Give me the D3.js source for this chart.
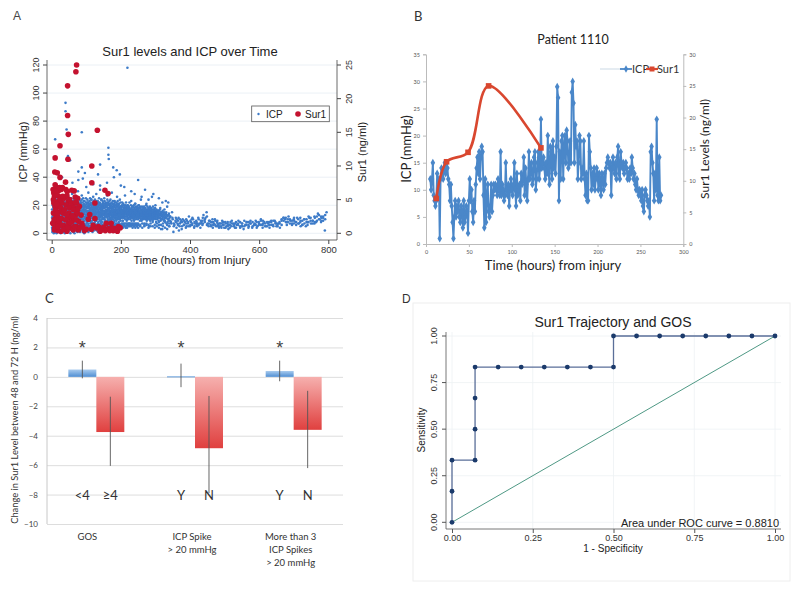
<!DOCTYPE html>
<html><head><meta charset="utf-8">
<script src="https://cdn.jsdelivr.net/npm/d3@7"></script>
<style>
body{margin:0;background:#fff;}
svg{display:block;}
</style>
</head><body>
<svg id="chart" width="800" height="592"></svg>
<script>
// ---------------- DATA ----------------
// Panel A: individual ICP readings (hours, mmHg)
const icpA = [
[3,12],[4,5],[5,18],[6,9],[7,24],[8,2],[9,14],[10,20],[11,7],[12,28],[13,11],[14,16],[15,3],[16,22],[17,9],[18,13],[19,30],[20,6],[21,18],[22,11],[23,25],[24,4],[25,15],[26,20],[27,8],[28,33],[29,12],[30,17],[31,1],[32,23],[33,10],[34,14],[35,27],[36,6],[37,19],[38,12],[39,22],[40,9],[41,16],[42,31],[43,4],[44,13],[45,21],[46,8],[47,17],[48,26],[49,11],[50,14],
[51,19],[52,7],[53,24],[54,12],[55,16],[56,3],[57,21],[58,10],[59,28],[60,14],[61,18],[62,6],[63,23],[64,11],[65,15],[66,20],[67,9],[68,26],[69,13],[70,17],[71,5],[72,22],[73,12],[74,19],[75,8],[76,30],[77,14],[78,16],[79,11],[80,24],[81,7],[82,18],[83,13],[84,21],[85,10],[86,15],[87,27],[88,4],[89,19],[90,12],[91,17],[92,9],[93,23],[94,14],[95,20],[96,6],[97,16],[98,11],[99,25],[100,13],[101,18],[102,8],[103,22],[104,15],[105,10],[106,29],[107,12],[108,19],[109,5],[110,16],[111,21],[112,9],[113,14],[114,24],[115,11],[116,17],[117,7],[118,20],[119,13],[120,26],[121,15],[122,10],[123,18],[124,3],[125,22],[126,12],[127,16],[128,9],[129,28],[130,14],[131,19],[132,11],[133,23],[134,7],[135,17],[136,13],[137,21],[138,10],[139,15],[140,31],[141,12],[142,18],[143,8],[144,24],[145,14],[146,16],[147,11],[148,20],[149,6],[150,13],
[151,18],[152,25],[153,10],[154,15],[155,21],[156,8],[157,14],[158,19],[159,12],[160,27],[161,16],[162,9],[163,22],[164,13],[165,17],[166,5],[167,20],[168,11],[169,15],[170,24],[171,10],[172,18],[173,13],[174,29],[175,7],[176,16],[177,21],[178,12],[179,14],[180,19],[181,9],[182,23],[183,15],[184,11],[185,17],[186,6],[187,20],[188,13],[189,26],[190,10],[191,16],[192,14],[193,21],[194,8],[195,18],[196,12],[197,24],[198,15],[199,11],[200,19],[202,13],[204,22],[206,9],[208,16],[210,12],[212,27],[214,14],[216,18],[218,10],[220,20],[222,15],[224,7],[226,17],[228,13],[230,23],[232,11],[234,16],[236,19],[238,9],[240,14],[242,21],[244,12],[246,17],[248,6],[250,15],
[252,20],[254,11],[256,14],[258,24],[260,9],[262,16],[264,13],[266,18],[268,7],[270,15],[272,12],[274,21],[276,10],[278,17],[280,14],[282,5],[284,19],[286,11],[288,15],[290,26],[292,9],[294,13],[296,17],[298,12],[300,20],[302,8],[304,14],[306,11],[308,16],[310,6],[312,13],[314,18],[316,10],[318,15],[320,3],[322,12],[324,9],[326,17],[328,11],[330,14],[332,7],[334,19],[336,10],[338,13],[340,5],[342,12],[345,8],[348,15],[350,10],[352,1],
[219,118],[40,93],[40,87],[43,74],[10,67],[87,72],[164,61],[164,56],[165,53],[140,49],[178,47],[188,45],[197,42],[87,47],[19,42],[77,44],[96,43],[134,42],[250,38],[77,38],[90,39],[294,28],[337,22],[53,52],[47,55],[120,35],[160,36],[210,33],[230,30],[270,31],[310,25],[200,34],[180,40],[140,34],[60,36],[30,40],[100,33],[240,28],[260,26],[280,24],[320,22],[330,23],
[355,6],[358,9],[361,4],[364,7],[367,11],[370,5],[373,8],[376,3],[379,10],[382,6],[385,8],[388,4],[391,9],[394,7],[397,12],[400,5],[403,8],[406,6],[409,10],[412,4],[415,7],[418,9],[421,5],[424,11],[427,7],[430,4],[433,8],[436,6],[439,13],[442,9],[445,11],[448,15],[451,7],[454,5],[457,9],[460,6],[463,8],[466,4],[469,7],[472,10],[475,5],[478,8],[481,6],[484,4],[487,7],[490,5],[493,9],[496,6],[499,4],[502,8],[505,5],[508,7],[511,3],[514,6],[517,8],[520,5],[525,7],[530,4],[535,6],[540,9],[545,5],[550,7],[555,3],[560,6],[565,8],[570,5],[575,7],[580,4],[585,6],[590,9],[595,5],[600,7],[605,10],[610,6],[615,8],[620,5],[625,7],[630,4],[635,8],[640,6],[645,9],[650,5],[655,7],[660,4],[665,9],[670,11],[675,10],[680,8],[685,12],[690,9],[695,6],[700,10],[705,8],[710,11],[715,7],[720,9],[725,6],[730,10],[735,5],[740,8],[745,11],[750,7],[755,9],[760,12],[765,8],[770,14],[775,10],[780,9],[785,12],[790,2],[795,15],
[362,10],[368,2],[375,9],[390,5],[405,10],[420,7],[435,9],[450,6],[465,10],[480,7],[495,8],[510,6],[530,7],[550,5],[570,8],[590,6],[610,4],[630,8],[650,7],[680,6],[700,7],[720,5],[740,6],[760,7],[780,11]
];
// Panel A: several ICP readings logged at the same hour: [hour, reading, reading, ...]
const icpRowsA = [
[1,4,11,17,23,8],[3,9,15,2,20,13],[5,6,19,12,26,10],[7,14,3,21,9,17],[9,11,24,7,16,1],[11,18,5,13,22,10],[13,8,15,27,4,19],[15,12,20,6,17,24],[17,5,14,10,23,16],[19,9,18,3,12,21],
[21,15,7,25,11,19],[23,10,20,4,16,13],[25,6,12,22,18,9],[27,14,2,17,24,11],[29,19,8,13,21,5],[31,11,16,26,7,14],[33,4,18,12,20,9],[35,15,10,23,6,17],[37,8,21,13,3,19],[39,12,16,25,9,14],
[41,18,6,11,22,15],[43,10,20,14,7,24],[45,5,13,19,16,11],[47,14,9,22,12,18],[49,20,7,15,25,10],[51,11,17,4,21,13],[53,16,9,19,12,23],[55,8,14,22,18,6],[57,13,20,10,16,25],[59,17,5,12,21,15],
[61,10,19,14,8,23],[63,15,22,6,13,18],[65,12,9,17,24,11],[67,19,14,21,7,16],[69,8,16,12,20,26],[71,14,11,23,17,9],[73,18,6,15,21,13],[75,11,20,9,16,24],[77,16,13,19,5,22],[79,9,17,12,25,15],
[81,13,21,16,8,19],[83,20,10,14,23,6],[85,7,15,18,12,22],[87,14,19,11,24,16],[89,17,8,22,13,20],[91,10,16,14,19,25],[93,15,12,21,7,18],[95,19,23,9,14,11],[97,12,17,20,16,6],[99,16,10,13,22,19],
[101,8,21,15,18,12],[103,14,19,11,24,16],[105,18,13,20,9,22],[107,11,16,7,21,14],[109,15,23,12,18,10],[111,20,9,17,13,25],[113,13,18,15,22,8],[115,17,11,24,14,19],[117,9,20,16,12,21],[119,14,15,22,18,7],
[121,19,12,10,23,16],[123,11,17,21,14,20],[125,16,8,13,19,24],[127,13,22,18,10,15],[129,20,14,9,17,21],[131,10,18,23,15,12],[133,15,11,19,21,17],[135,22,16,13,8,19],[137,12,20,17,14,25],[139,18,9,15,22,11],
[141,14,21,12,17,19],[143,9,16,24,13,20],[145,17,12,19,10,15],[147,21,14,8,18,23],[149,13,19,16,11,22],[151,16,10,21,14,18],[153,11,18,13,23,15],[155,19,15,20,9,12],[157,14,22,17,12,16],[159,8,13,19,21,15],
[161,17,20,11,14,24],[163,12,16,22,18,10],[165,20,9,14,17,21],[167,15,18,12,23,13],[169,10,21,16,14,19],[171,18,13,20,11,15],[173,14,17,9,22,16],[175,21,12,15,19,11],[177,13,16,23,10,18],[179,17,20,14,12,15],
[181,11,15,19,21,8],[183,16,22,13,17,14],[185,12,18,10,20,15],[187,19,14,16,9,22],[189,15,11,21,13,17],[191,13,17,12,19,23],[193,18,10,15,14,20],[195,14,21,11,17,13],[197,10,16,19,12,15],[199,17,13,22,15,9],
[201,12,19,14,18,16],[203,15,11,20,13,17],[205,19,14,9,16,12],[207,13,17,15,21,11],[209,16,12,18,14,20],[211,11,15,13,19,17],[213,18,20,14,10,15],[215,14,16,12,17,22],[217,12,19,15,13,9],[219,17,11,14,20,16],
[221,15,18,10,13,14],[223,13,16,19,11,17],[225,18,12,15,22,14],[227,10,14,17,16,12],[229,16,20,13,15,11],[231,14,12,18,9,16],[233,12,17,15,19,13],[235,19,13,11,14,17],[237,15,16,20,12,10],[239,11,14,17,15,18],
[241,17,12,13,21,15],[243,13,19,16,10,14],[245,16,11,14,18,12],[247,12,15,19,13,17],[249,18,14,10,16,12],[251,14,17,13,20,11],[253,11,15,18,12,16],[255,16,13,14,9,19],[257,13,18,11,15,12],[259,15,10,17,14,13],
[261,12,16,13,19,10],[263,17,14,12,11,15],[265,10,13,16,18,14],[267,14,19,12,15,11],[269,16,11,14,13,17],[271,12,15,18,10,13],[273,15,13,11,16,20],[275,13,17,14,12,9],[277,11,14,16,19,13],[279,17,12,13,15,10],
[281,14,16,11,13,18],[283,12,10,15,17,14],[285,16,13,12,14,9],[287,10,15,18,11,13],[289,14,12,16,13,17],[291,13,17,10,15,12],[293,15,11,14,19,13],[295,12,14,17,10,16],[297,16,13,12,14,11],[299,11,15,13,18,14],
[301,13,10,16,12,15],[303,15,12,14,17],[305,10,14,12,16],[307,14,11,15,13],[309,12,16,9,14],[311,16,13,11],[313,11,14,17],[315,13,9,15],[317,14,12,10],[319,10,15,13],
[321,13,11,16],[323,12,14],[325,15,10],[327,9,13],[329,14,12],[331,11,15],[333,13],[335,12,8],[337,10],[339,14,9],
[341,11],[343,9,12],[346,7],[349,11],
[2,3,1,6],[6,2,5,0],[10,4,1,7],[14,0,3,6],[18,5,2,1],[22,1,6,4],[26,3,0,5],[30,6,2,4],[34,1,5,3],[38,4,0,6],
[42,2,7,3],[46,5,1,4],[50,3,6,2],[54,0,4,7],[58,5,2,3],[62,1,6,4],[66,4,3,0],[70,2,5,7],[74,6,1,3],[78,3,4,6],
[82,1,7,2],[86,5,3,4],[90,2,6,1],[94,4,0,5],[98,6,3,2],[102,3,5,7],[106,1,4,6],[110,5,2,3],[114,3,7,4],[118,6,1,5],
[122,2,4,7],[126,5,3,6],[130,4,6,2],[134,1,5,7],[138,6,3,4],[142,3,7,5],[146,5,2,6],[150,4,6,3],[154,7,4,2],[158,3,5,6],
[162,6,2,7],[166,4,7,5],[170,2,5,6],[174,5,3,7],[178,7,4,6],[182,3,6,5],[186,6,7,4],[190,4,5,7],[194,7,3,6],[198,5,6,4],
[202,6,7,5],[206,4,6,7],[210,7,5,6],[214,5,7,4],[218,6,4,7],[222,7,6,5],[226,5,7,6],[230,6,5,7],[234,7,6,4],[238,5,7,6],
[242,6,4,7],[246,7,5,6],[250,4,7,6],[256,6,5],[262,7,4],[268,5,6],[274,6,7],[280,4,6],[286,7,5],[292,5,8],
[298,6,4],[304,7,5],[310,4,8],[316,6,3],[322,5,7],[328,8,4],[334,3,6],[340,7,5],
[353,7,5],[359,8,11],[365,6,9],[371,10,7],[377,5,8],[383,9,6],[389,7,10],[395,8,5],[401,6,9],[407,11,7],
[413,5,8],[419,8,6],[425,6,10],[431,9,7],[437,7,11],[443,10,8],[449,12,6],[455,7,9],[461,5,8],[467,8,6],
[473,6,9],[479,9,5],[485,5,7],[491,7,4],[497,6,8],[503,4,7],[509,8,5],[515,6,4],[521,7,9],[527,5,6],
[533,8,4],[539,6,7],[545,4,8],[551,7,5],[557,5,9],[563,8,6],[569,6,4],[575,9,7],[581,5,8],[587,7,6],
[593,4,8],[599,8,6],[605,6,9],[611,9,7],[617,7,5],[623,5,8],[629,8,6],[635,6,9],[641,9,5],[647,7,8],
[653,5,6],[659,8,7],[665,10,6],[671,9,11],[677,11,8],[683,8,10],[689,10,7],[695,7,9],[701,9,11],[707,6,8],
[713,10,7],[719,8,11],[725,9,6],[731,7,10],[737,10,8],[743,8,12],[749,11,9],[755,9,7],[761,8,11],[767,12,9],
[773,10,13],[779,8,12],[785,11,9],[791,13,10]
];
// Panel A: Sur1 levels (hours, ng/ml)
const sur1A = [
[72,25.0],[70,24.0],[46,21.9],[46,17.5],[48,14.7],[132,15.3],[24,13.0],[10,11.2],[47,11.0],[116,10.0],
[9,9.1],[24,8.3],[116,7.5],[40,7.6],[10,7.2],[19,6.3],[65,6.3],[154,6.4],[163,5.9],[75,5.2],
[19,4.7],[48,4.7],[72,4.5],[125,4.5],[10,4.0],[67,3.7],[24,3.2],[10,2.2],[48,2.3],[106,2.1],
[125,2.2],[14,1.5],[34,1.2],[58,1.7],[87,1.5],[135,1.0],[164,0.7],[183,0.7],[193,1.0],[10,0.7],
[38,0.7],[77,0.5],[5,3.0],[8,5.5],[15,6.8],[20,5.5],[27,6.5],[12,2.8],[22,1.8],[27,0.3],
[45,6.2],[50,3.0],[55,0.8],[60,4.0],[70,2.8],[72,1.0],[44,0.3],[95,0.4],[115,0.6],[140,0.3],
[150,0.9],[172,1.5],[178,0.4],[190,0.3],[30,4.5],[16,9.0],[158,1.5],[120,1.2],[130,0.8],[5,5.0],
[3,1.5],[6,6.0],[8,0.5],[11,3.5],[13,5.8],[17,2.5],[18,0.4],[21,4.0],[25,5.0],[28,2.2],
[31,6.8],[33,3.0],[36,5.2],[40,2.0],[42,4.2],[44,5.6],[49,1.5],[52,5.0],[56,2.5],[58,6.4],
[62,0.5],[64,2.0],[68,5.4],[74,3.0],[78,1.8],[80,4.0],[100,0.6],[110,2.8],[145,0.5],[155,0.4],
[168,0.4],[185,0.5],[198,0.8],[175,0.8],[4,6.5],[6,4.5],[7,2.0],[9,0.8],[12,6.3],[14,4.3],
[16,3.0],[19,1.0],[23,6.8],[26,3.8],[29,1.2],[32,5.5],[35,0.6],[37,3.5],[41,6.5],[43,2.8],
[47,0.9],[51,3.8],[54,1.6],[57,4.5],[60,2.6],[63,3.5],[66,1.0],[69,4.6],[71,2.0],[76,3.6],
[82,0.9],[85,2.7],[90,1.0]
];
const ticksA_x = [0,200,400,600,800];
const ticksA_y = [0,20,40,60,80,100,120];
const ticksA_y2 = [0,5,10,15,20,25];

// Panel B: Patient 1110 ICP (hours, mmHg)
const icpB = [
[5,12],[6,10],[7,12],[8,15],[9,9],[10,8],[11,7],[12,8],[13,13],[14,9],[15,12],[16,1],[17,12],[18,14],[19,13],[20,12],[21,14],[22,15],[23,13],[24,15],[25,14],[26,12],[27,11],[28,8],[29,11],[30,7],[31,4],[32,1],[33,5],[34,8],[35,5],[36,7],[37,6],[38,8],[39,5],[40,4],[41,7],[42,6],[43,3],[44,8],[45,4],[46,5],[47,7],[48,6],[49,2],
[50,8],[51,12],[52,8],[53,10],[54,6],[55,4],[56,8],[57,6],[58,11],[59,14],[60,16],[61,13],[62,17],[63,12],[64,16],[65,18],[66,17],[67,9],[68,3],[69,12],[70,4],[71,9],[72,11],[73,6],[74,5],[75,7],[76,11],[77,6],[78,9],[79,11],[80,10],[81,11],[82,10],[83,9],[84,12],[85,10],[86,9],[87,17],[88,9],[89,11],[90,10],[91,8],[92,9],[93,15],[94,10],[95,9],[96,11],[97,7],[98,10],[99,12],[100,10],[101,9],[102,11],[103,15],[104,10],
[105,7],[106,13],[107,9],[108,10],[109,11],[110,8],[111,13],[112,11],[113,12],[114,16],[115,9],[116,14],[117,11],[118,8],[119,12],[120,17],[121,12],[122,14],[123,15],[124,11],[125,12],[126,16],[127,17],[128,10],[129,12],[130,15],[131,17],[132,12],[133,14],[134,23],[135,14],[136,15],[137,16],[138,14],[139,12],[140,15],[141,13],[142,20],[143,13],[144,11],[145,18],[146,17],[147,12],[148,19],[149,14],[150,16],[151,13],[152,18],[153,29],[154,27],[155,8],[156,17],[157,12],[158,19],[159,20],[160,12],[161,18],[162,20],[163,15],[164,21],[165,19],[166,14],[167,15],[168,19],[169,15],[170,28],[171,30],[172,26],[173,15],[174,22],[175,18],[176,19],[177,12],[178,15],[179,20],[180,19],[181,12],[182,14],[183,13],[184,19],[185,12],[186,9],[187,13],[188,8],[189,8],[190,20],[191,17],[192,14],[193,10],
[194,13],[195,11],[196,14],[197,10],[198,12],[199,14],[200,13],[201,10],[202,13],[203,12],[204,9],[205,13],[206,12],[207,10],[208,13],[209,11],[210,14],[211,15],[212,16],[213,15],[214,14],[215,15],[216,9],[217,14],[218,16],[219,14],[220,13],[221,15],[222,12],[223,16],[224,18],[225,13],[226,12],[227,17],[228,15],[229,14],[230,15],[231,13],[232,14],[233,15],[234,14],[235,12],[236,13],[237,12],[238,14],[239,13],[240,16],[241,14],[242,12],[243,13],[244,11],[245,10],[246,12],[247,10],[248,9],[249,10],[250,9],[251,8],[252,10],[253,7],[254,6],[255,9],[256,10],[257,9],[258,8],[259,7],[260,8],[261,5],[262,17],[263,18],[264,15],[265,13],[266,8],[267,13],[268,10],[269,23],[270,9],[271,8],[272,16],[273,8],[274,9]
];
// Panel B: Sur1 (hours, ng/ml)
const sur1B = [[12,7.2],[24,13.0],[49,14.5],[73,25.0],[134,15.2]];
const ticksB_x = [0,50,100,150,200,250,300];
const ticksB_y = [0,5,10,15,20,25,30,35];
const ticksB_y2 = [0,5,10,15,20,25,30];

// Panel C: change in Sur1 between 48 and 72 h
const groupsC = [["GOS"],["ICP Spike","> 20 mmHg"],["More than 3","ICP Spikes","> 20 mmHg"]];
const subLabelsC = [["<4","\u22654"],["Y","N"],["Y","N"]];
const meanBlueC = [0.5, 0.05, 0.4];
const meanRedC = [-3.75, -4.85, -3.6];
const errBlueC = [[-0.1,1.1],[-0.7,0.9],[-0.3,1.1]];
const errRedC = [[-6.05,-1.35],[-7.9,-1.3],[-6.2,-0.95]];
const ticksC_y = [4,2,0,-2,-4,-6,-8,-10];

// Panel D: ROC curve (1-specificity, sensitivity)
const rocX = [0,0,0,0.0714,0.0714,0.0714,0.0714,0.1429,0.2143,0.2857,0.3571,0.4286,0.5,0.5,0.5714,0.6429,0.7143,0.7857,0.8571,0.9286,1];
const rocY = [0,0.1667,0.3333,0.3333,0.5,0.6667,0.8333,0.8333,0.8333,0.8333,0.8333,0.8333,0.8333,1,1,1,1,1,1,1,1];
const ticksD = [0,0.25,0.5,0.75,1];
const aucText = "Area under ROC curve = 0.8810";

// ---------------- DRAWING ----------------
const svg = d3.select("#chart");
svg.append("rect").attr("width",800).attr("height",592).attr("fill","#fff");
const SANS = "'Liberation Sans', Arial, sans-serif";
const CAL = "Lato, 'Open Sans', sans-serif";

// ===== Panel A =====
{
  const g = svg.append("g");
  const x = d3.scaleLinear([0,800],[51.7,328.3]);
  const y = d3.scaleLinear([0,120],[233.3,65]);
  const y2 = d3.scaleLinear([0,25],[233.3,65]);
  const L=47, R=337, B=240, T=60;
  const icpAll = icpA.concat(icpRowsA.flatMap(r=>r.slice(1).map(v=>[r[0],v])));
  g.append("text").attr("x",13).attr("y",20).text("A").attr("font-family",SANS).attr("font-size",12).attr("fill","#444");
  g.append("text").attr("x",190).attr("y",56).attr("text-anchor","middle").text("Sur1 levels and ICP over Time")
    .attr("font-family",SANS).attr("font-size",13).attr("fill","#222");
  g.selectAll(".gA").data(ticksA_y).join("line").attr("x1",L).attr("x2",R)
    .attr("y1",d=>y(d)).attr("y2",d=>y(d)).attr("stroke","#e6ecf2").attr("stroke-width",0.8);
  g.append("line").attr("x1",L).attr("x2",L).attr("y1",T).attr("y2",B).attr("stroke","#444").attr("stroke-width",0.8);
  g.append("line").attr("x1",R).attr("x2",R).attr("y1",T).attr("y2",B).attr("stroke","#444").attr("stroke-width",0.8);
  g.append("line").attr("x1",L).attr("x2",R).attr("y1",B).attr("y2",B).attr("stroke","#444").attr("stroke-width",0.8);
  const ax = g.append("g").attr("transform",`translate(${L},0)`).call(d3.axisLeft(y).tickValues(ticksA_y).tickSize(4).tickFormat(d3.format("d")));
  ax.select(".domain").remove();
  ax.selectAll("line").attr("stroke","#444");
  ax.selectAll(".tick").attr("transform","translate(0,0)");
  ax.selectAll(".tick line").attr("y1",d=>y(d)).attr("y2",d=>y(d));
  ax.selectAll("text").attr("font-family",SANS).attr("font-size",9).attr("fill","#333")
    .attr("x",0).attr("y",0).attr("dy",0).attr("text-anchor","middle")
    .attr("transform",d=>`translate(-8,${y(d)}) rotate(-90)`);
  const ax2 = g.append("g").attr("transform",`translate(${R},0)`).call(d3.axisRight(y2).tickValues(ticksA_y2).tickSize(4).tickFormat(d3.format("d")));
  ax2.select(".domain").remove();
  ax2.selectAll("line").attr("stroke","#444");
  ax2.selectAll(".tick").attr("transform","translate(0,0)");
  ax2.selectAll(".tick line").attr("y1",d=>y2(d)).attr("y2",d=>y2(d));
  ax2.selectAll("text").attr("font-family",SANS).attr("font-size",9).attr("fill","#333")
    .attr("x",0).attr("y",0).attr("dy",0).attr("text-anchor","middle")
    .attr("transform",d=>`translate(15,${y2(d)}) rotate(-90)`);
  const axb = g.append("g").attr("transform",`translate(0,${B})`).call(d3.axisBottom(x).tickValues(ticksA_x).tickSize(4));
  axb.select(".domain").remove();
  axb.selectAll("line").attr("stroke","#444");
  axb.selectAll("text").attr("font-family",SANS).attr("font-size",9.5).attr("fill","#333").attr("y",6);
  g.append("text").attr("x",192).attr("y",264).attr("text-anchor","middle").text("Time (hours) from Injury")
    .attr("font-family",SANS).attr("font-size",11).attr("fill","#222");
  g.append("text").attr("transform","translate(27,152) rotate(-90)").attr("text-anchor","middle").text("ICP (mmHg)")
    .attr("font-family",SANS).attr("font-size",11).attr("fill","#222");
  g.append("text").attr("transform","translate(366,152) rotate(-90)").attr("text-anchor","middle").text("Sur1 (ng/ml)")
    .attr("font-family",SANS).attr("font-size",11).attr("fill","#222");
  g.append("g").selectAll("circle").data(icpAll).join("circle")
    .attr("cx",d=>x(d[0])).attr("cy",d=>y(d[1])).attr("r",1.3).attr("fill","#3d7bc8");
  g.append("g").selectAll("circle").data(sur1A).join("circle")
    .attr("cx",d=>x(d[0])).attr("cy",d=>y2(d[1])).attr("r",2.8).attr("fill","#c4122f");
  g.append("rect").attr("x",251.7).attr("y",106).attr("width",77.6).attr("height",15.7)
    .attr("fill","#fff").attr("stroke","#555").attr("stroke-width",0.8);
  g.append("circle").attr("cx",258.5).attr("cy",114).attr("r",1.2).attr("fill","#3d7bc8");
  g.append("text").attr("x",266).attr("y",117.5).text("ICP").attr("font-family",SANS).attr("font-size",10).attr("fill","#222");
  g.append("circle").attr("cx",298).attr("cy",114).attr("r",2.8).attr("fill","#c4122f");
  g.append("text").attr("x",305).attr("y",117.5).text("Sur1").attr("font-family",SANS).attr("font-size",10).attr("fill","#222");
}

// ===== Panel B =====
{
  const g = svg.append("g");
  const x = d3.scaleLinear([0,300],[426,683.3]);
  const y = d3.scaleLinear([0,35],[244,54.3]);
  const y2 = d3.scaleLinear([0,30],[244,54.3]);
  g.append("text").attr("x",414).attr("y",21).text("B").attr("font-family",CAL).attr("font-size",13).attr("fill","#333");
  g.append("text").attr("x",573).attr("y",44).attr("text-anchor","middle").text("Patient 1110")
    .attr("font-family",CAL).attr("font-size",12.5).attr("fill","#222");
  const axc = "#bbb";
  const al = g.append("g").attr("transform","translate(426,0)").call(d3.axisLeft(y).tickValues(ticksB_y).tickSize(3));
  al.select(".domain").attr("stroke",axc);
  al.selectAll("line").attr("stroke",axc);
  al.selectAll("text").attr("font-family",CAL).attr("font-size",5.5).attr("fill","#555");
  const ar = g.append("g").attr("transform","translate(683.3,0)").call(d3.axisRight(y2).tickValues(ticksB_y2).tickSize(3));
  ar.select(".domain").attr("stroke",axc);
  ar.selectAll("line").attr("stroke",axc);
  ar.selectAll("text").attr("font-family",CAL).attr("font-size",5.5).attr("fill","#555");
  const ab = g.append("g").attr("transform","translate(0,244)").call(d3.axisBottom(x).tickValues(ticksB_x).tickSize(3));
  ab.select(".domain").attr("stroke",axc);
  ab.selectAll("line").attr("stroke",axc);
  ab.selectAll("text").attr("font-family",CAL).attr("font-size",5.5).attr("fill","#555");
  g.append("text").attr("x",553).attr("y",270).attr("text-anchor","middle").text("Time (hours) from injury")
    .attr("font-family",CAL).attr("font-size",13).attr("fill","#222");
  g.append("text").attr("transform","translate(411,149) rotate(-90)").attr("text-anchor","middle").text("ICP (mmHg)")
    .attr("font-family",CAL).attr("font-size",13).attr("fill","#222");
  g.append("text").attr("transform","translate(709,149) rotate(-90)").attr("text-anchor","middle").text("Sur1 Levels (ng/ml)")
    .attr("font-family",CAL).attr("font-size",12).attr("fill","#222");
  const blue = "#4a87c9", red = "#d9472f";
  g.append("path").datum(icpB).attr("d",d3.line().x(d=>x(d[0])).y(d=>y(d[1])))
    .attr("fill","none").attr("stroke",blue).attr("stroke-width",1.9).attr("stroke-linejoin","round");
  g.append("g").selectAll("path").data(icpB).join("path")
    .attr("d",d3.symbol(d3.symbolDiamond,18)).attr("transform",d=>`translate(${x(d[0])},${y(d[1])})`).attr("fill",blue);
  g.append("path").datum(sur1B).attr("d",d3.line().curve(d3.curveCatmullRom.alpha(0.5)).x(d=>x(d[0])).y(d=>y2(d[1])))
    .attr("fill","none").attr("stroke",red).attr("stroke-width",2.6);
  g.append("g").selectAll("rect").data(sur1B).join("rect")
    .attr("x",d=>x(d[0])-2.8).attr("y",d=>y2(d[1])-2.8).attr("width",5.6).attr("height",5.6).attr("fill",red);
  g.append("line").attr("x1",600).attr("x2",620).attr("y1",69).attr("y2",69).attr("stroke","#dde6ee").attr("stroke-width",1.5);
  g.append("line").attr("x1",620).attr("x2",632).attr("y1",69).attr("y2",69).attr("stroke",blue).attr("stroke-width",1.8);
  g.append("path").attr("d",d3.symbol(d3.symbolDiamond,16)).attr("transform","translate(626,69)").attr("fill",blue);
  g.append("text").attr("x",632).attr("y",73).text("ICP").attr("font-family",CAL).attr("font-size",11).attr("fill","#333");
  g.append("line").attr("x1",646).attr("x2",658).attr("y1",69).attr("y2",69).attr("stroke",red).attr("stroke-width",2.2);
  g.append("rect").attr("x",649.5).attr("y",66.5).attr("width",5).attr("height",5).attr("fill",red);
  g.append("text").attr("x",657).attr("y",73).text("Sur1").attr("font-family",CAL).attr("font-size",11).attr("fill","#333");
}

// ===== Panel C =====
{
  const g = svg.append("g");
  const L=47, R=343;
  const y = d3.scaleLinear([-10,4],[524,318]);
  const xg = d3.scaleBand().domain(d3.range(groupsC.length)).range([L,R]);
  const xi = d3.scaleBand().domain([0,1]).range([0,xg.bandwidth()]).paddingOuter(0.7625);
  const defs = svg.append("defs");
  const gb = defs.append("linearGradient").attr("id","gBlue").attr("x1",0).attr("x2",0).attr("y1",0).attr("y2",1);
  gb.append("stop").attr("offset","0%").attr("stop-color","#a9cbee");
  gb.append("stop").attr("offset","100%").attr("stop-color","#4f8ed3");
  const gr = defs.append("linearGradient").attr("id","gRed").attr("x1",0).attr("x2",0).attr("y1",0).attr("y2",1);
  gr.append("stop").attr("offset","0%").attr("stop-color","#f6b0ae");
  gr.append("stop").attr("offset","100%").attr("stop-color","#e0403f");
  g.append("text").attr("x",45).attr("y",303).text("C").attr("font-family",CAL).attr("font-size",13).attr("fill","#333");
  const ay = g.append("g").attr("transform",`translate(${L},0)`).call(d3.axisLeft(y).tickValues(ticksC_y).tickSize(-(R-L)).tickPadding(9));
  ay.select(".domain").remove();
  ay.selectAll("line").attr("stroke","#d4d4d4").attr("stroke-width",0.8);
  ay.selectAll("text").attr("font-family",CAL).attr("font-size",8).attr("fill","#444");
  g.append("line").attr("x1",L).attr("x2",L).attr("y1",318).attr("y2",524).attr("stroke","#c8c8c8");
  g.append("text").attr("transform","translate(18,420) rotate(-90)").attr("text-anchor","middle")
    .text("Change in Sur1 Level between 48 and 72 H (ng/ml)").attr("font-family",CAL).attr("font-size",9.3).attr("fill","#333");
  groupsC.forEach((lines,i)=>{
    const gx = xg(i);
    const bx = gx + xi(0), rx = gx + xi(1), w = xi.bandwidth();
    const vb = meanBlueC[i], vr = meanRedC[i];
    g.append("rect").attr("x",bx).attr("y",y(Math.max(0,vb))).attr("width",w).attr("height",Math.max(1.2,Math.abs(y(vb)-y(0))))
      .attr("fill","url(#gBlue)");
    g.append("rect").attr("x",rx).attr("y",y(0)).attr("width",w).attr("height",y(vr)-y(0)).attr("fill","url(#gRed)");
    g.append("line").attr("x1",bx+w/2).attr("x2",bx+w/2).attr("y1",y(errBlueC[i][0])).attr("y2",y(errBlueC[i][1]))
      .attr("stroke","#555").attr("stroke-width",0.9);
    g.append("line").attr("x1",rx+w/2).attr("x2",rx+w/2).attr("y1",y(errRedC[i][0])).attr("y2",y(errRedC[i][1]))
      .attr("stroke","#555").attr("stroke-width",0.9);
    g.append("text").attr("x",bx+w/2).attr("y",y(2.1)+8).attr("text-anchor","middle").text("*")
      .attr("font-family",SANS).attr("font-size",18).attr("fill","#444");
    g.append("text").attr("x",bx+w/2).attr("y",y(-8)+5).attr("text-anchor","middle").text(subLabelsC[i][0])
      .attr("font-family",CAL).attr("font-size",13).attr("fill","#333");
    g.append("text").attr("x",rx+w/2).attr("y",y(-8)+5).attr("text-anchor","middle").text(subLabelsC[i][1])
      .attr("font-family",CAL).attr("font-size",13).attr("fill","#333");
    lines.forEach((t,k)=>{
      g.append("text").attr("x",gx+xg.bandwidth()/2-(i===0?9:3)).attr("y",540+k*13).attr("text-anchor","middle").text(t)
        .attr("font-family",CAL).attr("font-size",9.5).attr("fill","#333");
    });
  });
}

// ===== Panel D =====
{
  const g = svg.append("g");
  const x = d3.scaleLinear([0,1],[452,775]);
  const y = d3.scaleLinear([0,1],[522.3,336]);
  g.append("rect").attr("x",413).attr("y",303).attr("width",377).attr("height",278).attr("fill","none").attr("stroke","#eeeeee");
  g.append("text").attr("x",402).attr("y",303).text("D").attr("font-family",SANS).attr("font-size",12).attr("fill","#333");
  g.append("text").attr("x",613).attr("y",327).attr("text-anchor","middle").text("Sur1 Trajectory and GOS")
    .attr("font-family",SANS).attr("font-size",14).attr("fill","#222");
  g.selectAll(".gv").data(ticksD).join("line").attr("x1",d=>x(d)).attr("x2",d=>x(d)).attr("y1",332).attr("y2",529)
    .attr("stroke","#eef1f4").attr("stroke-width",0.8);
  g.selectAll(".gh").data(ticksD).join("line").attr("x1",446).attr("x2",781).attr("y1",d=>y(d)).attr("y2",d=>y(d))
    .attr("stroke","#eef1f4").attr("stroke-width",0.8);
  g.append("line").attr("x1",446).attr("x2",446).attr("y1",332).attr("y2",529).attr("stroke","#555").attr("stroke-width",0.8);
  g.append("line").attr("x1",446).attr("x2",781).attr("y1",529).attr("y2",529).attr("stroke","#555").attr("stroke-width",0.8);
  const fmt = d3.format(".2f");
  const al = g.append("g").attr("transform","translate(446,0)").call(d3.axisLeft(y).tickValues(ticksD).tickSize(4).tickFormat(fmt));
  al.select(".domain").remove();
  al.selectAll("line").attr("stroke","#555");
  al.selectAll(".tick").attr("transform","translate(0,0)");
  al.selectAll(".tick line").attr("y1",d=>y(d)).attr("y2",d=>y(d));
  al.selectAll("text").attr("font-family",SANS).attr("font-size",9).attr("fill","#333")
    .attr("x",0).attr("y",0).attr("dy",0).attr("text-anchor","middle").attr("transform",d=>`translate(-9,${y(d)}) rotate(-90)`);
  const ab = g.append("g").attr("transform","translate(0,529)").call(d3.axisBottom(x).tickValues(ticksD).tickSize(4).tickFormat(fmt));
  ab.select(".domain").remove();
  ab.selectAll("line").attr("stroke","#555");
  ab.selectAll("text").attr("font-family",SANS).attr("font-size",9).attr("fill","#333").attr("y",6);
  g.append("text").attr("x",613).attr("y",552).attr("text-anchor","middle").text("1 - Specificity")
    .attr("font-family",SANS).attr("font-size",10).attr("fill","#222");
  g.append("text").attr("transform","translate(425,430) rotate(-90)").attr("text-anchor","middle").text("Sensitivity")
    .attr("font-family",SANS).attr("font-size",10).attr("fill","#222");
  g.append("line").attr("x1",x(0)).attr("y1",y(0)).attr("x2",x(1)).attr("y2",y(1)).attr("stroke","#4f9985").attr("stroke-width",1);
  const pts = rocX.map((v,i)=>[v,rocY[i]]);
  g.append("path").datum(pts).attr("d",d3.line().x(d=>x(d[0])).y(d=>y(d[1])))
    .attr("fill","none").attr("stroke","#5a6f99").attr("stroke-width",1.3);
  g.append("g").selectAll("circle").data(pts).join("circle").attr("cx",d=>x(d[0])).attr("cy",d=>y(d[1])).attr("r",2.4).attr("fill","#1b3a6b");
  g.append("text").attr("x",779).attr("y",527).attr("text-anchor","end").text(aucText)
    .attr("font-family",SANS).attr("font-size",11).attr("fill","#222");
}
</script>
</body></html>
